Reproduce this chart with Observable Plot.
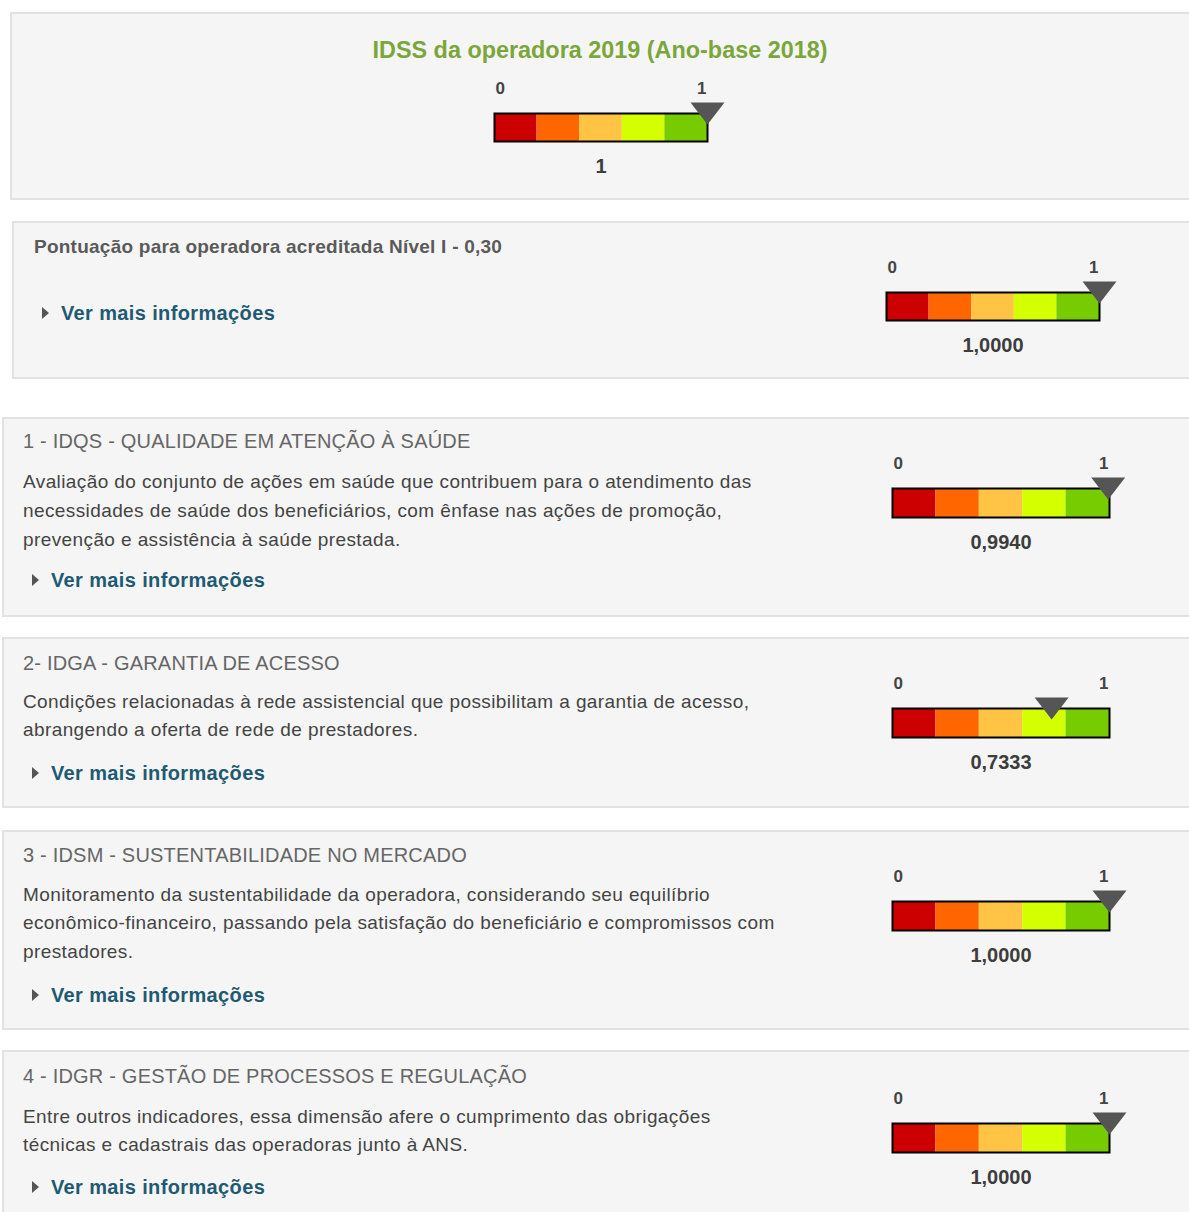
<!DOCTYPE html>
<html>
<head>
<meta charset="utf-8">
<script src="https://cdn.jsdelivr.net/npm/d3@7"></script>
<script src="https://cdn.jsdelivr.net/npm/@observablehq/plot@0.6"></script>
<style>
  html, body { margin:0; padding:0; background:#fff; }
  body { width:1189px; height:1212px; position:relative; overflow:hidden; font-family:"Liberation Sans", Arial, sans-serif; }
  .panel { position:absolute; background:#f5f5f5; border:2px solid #e2e2e2; box-sizing:border-box; width:1300px; }
  .t { position:absolute; white-space:nowrap; }
  .title { color:#7ba63a; font-size:23.4px; font-weight:bold; line-height:30px; }
  .sub { color:#5a5a5a; font-size:19px; font-weight:bold; line-height:24px; letter-spacing:0.24px; }
  .head { color:#666; font-size:20px; line-height:24px; letter-spacing:0.2px; }
  .desc { color:#444; font-size:19px; line-height:29px; letter-spacing:0.4px; }
  .link { color:#1f5a73; font-size:20px; font-weight:bold; line-height:24px; letter-spacing:0.37px; }
  .arrow { position:absolute; width:0; height:0; border-top:6px solid transparent; border-bottom:6px solid transparent; border-left:7px solid #555; }
  .gauge { position:absolute; }
</style>
</head>
<body>
<div id="root"></div>
<script>
// ---- data ----
const gaugeNames = ["IDSS 2019", "Acreditação Nível I", "IDQS", "IDGA", "IDSM", "IDGR"];
const gaugeValues = [1, 1, 0.9940, 0.7333, 1, 1];
const gaugeValueLabels = ["1", "1,0000", "0,9940", "0,7333", "1,0000", "1,0000"];
const scaleTickValues = [0, 1];
const scaleTickLabels = ["0", "1"];
const bandStarts = [0, 0.2, 0.4, 0.6, 0.8];
const bandEnds = [0.2, 0.4, 0.6, 0.8, 1];
const bandColors = ["#cc0000", "#ff6600", "#ffc444", "#d4ff00", "#77cc00"];

const headings = [
  "1 - IDQS - QUALIDADE EM ATENÇÃO À SAÚDE",
  "2- IDGA - GARANTIA DE ACESSO",
  "3 - IDSM - SUSTENTABILIDADE NO MERCADO",
  "4 - IDGR - GESTÃO DE PROCESSOS E REGULAÇÃO"
];
const descriptions = [
  ["Avaliação do conjunto de ações em saúde que contribuem para o atendimento das",
   "necessidades de saúde dos beneficiários, com ênfase nas ações de promoção,",
   "prevenção e assistência à saúde prestada."],
  ["Condições relacionadas à rede assistencial que possibilitam a garantia de acesso,",
   "abrangendo a oferta de rede de prestadores."],
  ["Monitoramento da sustentabilidade da operadora, considerando seu equilíbrio",
   "econômico-financeiro, passando pela satisfação do beneficiário e compromissos com",
   "prestadores."],
  ["Entre outros indicadores, essa dimensão afere o cumprimento das obrigações",
   "técnicas e cadastrais das operadoras junto à ANS."]
];

// ---- layout (page boxes) ----
const root = document.getElementById("root");
function el(cls, css, html) {
  const d = document.createElement("div");
  d.className = cls;
  Object.assign(d.style, css);
  if (html !== undefined) d.innerHTML = html;
  root.appendChild(d);
  return d;
}
function textAt(cls, x, cy, txt, lh) {
  return el("t " + cls, {left: x + "px", top: (cy - lh / 2) + "px"}, txt);
}
function link(ax, tx, cy) {
  el("arrow", {left: ax + "px", top: (cy - 6) + "px"});
  textAt("link", tx, cy, "Ver mais informações", 24);
}

// panels
el("panel", {left: "10px", top: "12px", height: "188px"});
el("panel", {left: "12px", top: "221px", height: "158px"});
el("panel", {left: "2px", top: "417px", height: "200px"});
el("panel", {left: "2px", top: "637px", height: "171px"});
el("panel", {left: "2px", top: "830px", height: "200px"});
el("panel", {left: "2px", top: "1050px", height: "200px"});

// title
el("t title", {left: "0px", width: "1200px", textAlign: "center", top: (50 - 15) + "px"}, "IDSS da operadora 2019 (Ano-base 2018)");
// panel 2
textAt("sub", 34, 247, "Pontuação para operadora acreditada Nível I - 0,30", 24);
link(42, 61, 313);

const headY = [441, 663, 855, 1076];
const descY = [[481, 510, 539], [701, 729], [894, 922, 951], [1116, 1144]];
const linkY = [580, 773, 995, 1187];
headings.forEach((h, i) => {
  textAt("head", 23, headY[i], h, 24);
  descriptions[i].forEach((line, j) => textAt("desc", 23, descY[i][j], line, 29));
  link(32, 51, linkY[i]);
});

// ---- gauges ----
const pointer = {
  draw(ctx) {
    ctx.moveTo(-17, -11);
    ctx.lineTo(17, -11);
    ctx.lineTo(0, 11);
    ctx.closePath();
  }
};
const gaugeBox = [
  {left: 494, top: 113, w: 213, h: 28},
  {left: 886, top: 292, w: 213, h: 28},
  {left: 892, top: 488, w: 217, h: 29},
  {left: 892, top: 708, w: 217, h: 29},
  {left: 892, top: 901, w: 217, h: 29},
  {left: 892, top: 1123, w: 217, h: 29}
];
const M = 22, MT = 40;
gaugeValues.forEach((v, i) => {
  const b = gaugeBox[i];
  const bands = bandStarts.map((s, k) => ({x1: s, x2: bandEnds[k], color: bandColors[k]}));
  const ticks = scaleTickValues.map((t, k) => ({x: t, label: scaleTickLabels[k]}));
  const chart = Plot.plot({
    width: b.w + 2 * M,
    height: b.h + 2 * MT,
    marginLeft: M, marginRight: M, marginTop: MT, marginBottom: MT,
    x: {domain: [0, 1], axis: null},
    y: {domain: [0, 1], axis: null},
    style: {background: "transparent", overflow: "visible", fontFamily: "'Liberation Sans', Arial, sans-serif"},
    marks: [
      Plot.rect(bands, {x1: "x1", x2: "x2", y1: 0, y2: 1, fill: "color"}),
      Plot.frame({stroke: "#000", strokeWidth: 2}),
      Plot.text(ticks.slice(0, 1), {x: "x", y: 1, text: "label", dy: -25, dx: 1, textAnchor: "start", fontSize: 17, fontWeight: "bold", fill: "#444"}),
      Plot.text(ticks.slice(1), {x: "x", y: 1, text: "label", dy: -25, dx: -1, textAnchor: "end", fontSize: 17, fontWeight: "bold", fill: "#444"}),
      Plot.dot([{v}], {x: "v", y: 1, symbol: pointer, fill: "#555", stroke: "none"}),
      Plot.text([{label: gaugeValueLabels[i]}], {x: 0.5, y: 0, text: "label", dy: 25, fontSize: 20, fontWeight: "bold", fill: "#3d3d3d"})
    ]
  });
  const wrap = el("gauge", {left: (b.left - M) + "px", top: (b.top - MT) + "px"});
  wrap.setAttribute("aria-label", gaugeNames[i]);
  wrap.appendChild(chart);
});
</script>
</body>
</html>
